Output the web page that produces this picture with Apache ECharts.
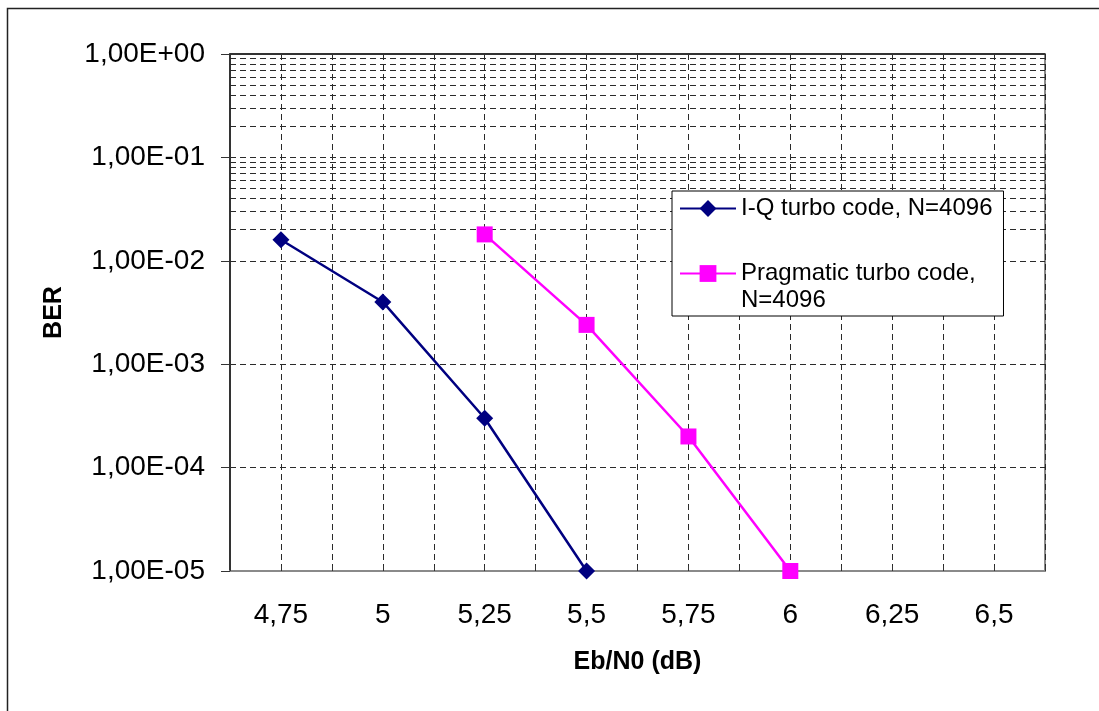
<!DOCTYPE html>
<html><head><meta charset="utf-8">
<script src="https://cdn.jsdelivr.net/npm/echarts@6/dist/echarts.min.js"></script>
<style>html,body{margin:0;padding:0;background:#fff}#c{width:1099px;height:711px}</style>
</head><body><div id="c"></div>
<script>
// ---- data ----
const seriesNames = ['I-Q turbo code, N=4096', 'Pragmatic turbo code, N=4096'];
const ebnoIQ = [4.75, 5, 5.25, 5.5];
const berIQ = [0.016, 0.004, 0.0003, 0.00001];
const ebnoPrag = [5.25, 5.5, 5.75, 6];
const berPrag = [0.018, 0.0024, 0.0002, 0.00001];
const xTickValues = [4.75, 5, 5.25, 5.5, 5.75, 6, 6.25, 6.5];
const xTickLabels = ['4,75', '5', '5,25', '5,5', '5,75', '6', '6,25', '6,5'];
const yTickValues = [1, 0.1, 0.01, 0.001, 0.0001, 0.00001];
const yTickLabels = ['1,00E+00', '1,00E-01', '1,00E-02', '1,00E-03', '1,00E-04', '1,00E-05'];
const decades = [0.00001, 0.0001, 0.001, 0.01, 0.1];
const minorMultipliers = [2, 3, 4, 5, 6, 7, 8, 9];

const FONT = "'Liberation Sans', Arial, sans-serif";
const GRID_COLOR = '#2a2a2a';
const DASH = [6, 4];

const minorLines = [];
decades.forEach(d => minorMultipliers.forEach(m => minorLines.push({ yAxis: d * m })));

const chart = echarts.init(document.getElementById('c'), null, { renderer: 'canvas' });
chart.setOption({
  animation: false,
  backgroundColor: '#fff',
  textStyle: { fontFamily: FONT },
  graphic: [{
    type: 'rect', silent: true, z: -1,
    shape: { x: 7.5, y: 8.5, width: 1200, height: 800 },
    style: { fill: 'none', stroke: '#222', lineWidth: 1.5 }
  }],
  grid: {
    left: 230, right: 54, top: 54, bottom: 140,
    show: true, borderColor: '#8a8a8a', borderWidth: 2, backgroundColor: 'transparent'
  },
  legend: {
    orient: 'vertical', left: 672, top: 191, z: 20,
    padding: [4, 11, 2, 7],
    itemWidth: 56, itemHeight: 21, itemGap: 11,
    borderColor: '#000', borderWidth: 1, backgroundColor: '#fff',
    textStyle: { fontSize: 24, lineHeight: 27, color: '#000', fontFamily: FONT },
    formatter: function (name) {
      if (name === seriesNames[1]) return '\nPragmatic turbo code,\nN=4096';
      return name;
    },
    data: seriesNames
  },
  xAxis: {
    type: 'value', min: 4.625, max: 6.625, interval: 0.125,
    name: 'Eb/N0 (dB)', nameLocation: 'middle', nameGap: 79,
    nameTextStyle: { fontSize: 25, fontWeight: 'bold', color: '#000', fontFamily: FONT },
    axisLine: { onZero: false, lineStyle: { color: '#8a8a8a', width: 2 } },
    axisTick: { show: true, inside: true, length: 5, lineStyle: { color: '#333', width: 1 } },
    axisLabel: {
      fontSize: 28, color: '#000', margin: 30, fontFamily: FONT, hideOverlap: false,
      showMinLabel: true, showMaxLabel: true,
      formatter: function (v) {
        const i = xTickValues.findIndex(t => Math.abs(t - v) < 1e-9);
        return i >= 0 ? xTickLabels[i] : '';
      }
    },
    splitLine: { show: true, lineStyle: { color: GRID_COLOR, type: DASH, width: 1 } }
  },
  yAxis: {
    type: 'log', logBase: 10, min: 0.00001, max: 1,
    name: 'BER', nameLocation: 'middle', nameGap: 163, nameRotate: 90,
    nameTextStyle: { fontSize: 25, fontWeight: 'bold', color: '#000', fontFamily: FONT },
    axisLine: { show: true, lineStyle: { color: '#333', width: 2 } },
    axisTick: { show: true, inside: false, length: 9, lineStyle: { color: '#333', width: 1 } },
    axisLabel: {
      fontSize: 28, color: '#000', margin: 25, fontFamily: FONT,
      formatter: function (v) {
        const i = yTickValues.findIndex(t => Math.abs(Math.log10(t) - Math.log10(v)) < 1e-6);
        return i >= 0 ? yTickLabels[i] : '';
      }
    },
    splitLine: { show: true, lineStyle: { color: GRID_COLOR, type: DASH, width: 1 } },
    minorTick: { show: false }, minorSplitLine: { show: false }
  },
  series: [
    {
      name: seriesNames[0], type: 'line',
      data: ebnoIQ.map((x, i) => [x, berIQ[i]]),
      symbol: 'diamond', symbolSize: 17,
      lineStyle: { color: '#000080', width: 2.5 },
      itemStyle: { color: '#000080' },
      z: 5,
      markLine: {
        silent: true, symbol: ['none', 'none'], animation: false,
        label: { show: false },
        lineStyle: { color: GRID_COLOR, type: DASH, width: 1 },
        emphasis: { disabled: true },
        data: minorLines
      }
    },
    {
      name: seriesNames[1], type: 'line',
      data: ebnoPrag.map((x, i) => [x, berPrag[i]]),
      symbol: 'rect', symbolSize: 16,
      lineStyle: { color: '#ff00ff', width: 2.5 },
      itemStyle: { color: '#ff00ff' },
      z: 5,
      markLine: {
        silent: true, symbol: ['none', 'none'], animation: false,
        label: { show: false },
        lineStyle: { color: '#333', type: 'solid', width: 2 },
        emphasis: { disabled: true },
        data: [{ yAxis: 1 }]
      }
    }
  ]
});
</script></body></html>
